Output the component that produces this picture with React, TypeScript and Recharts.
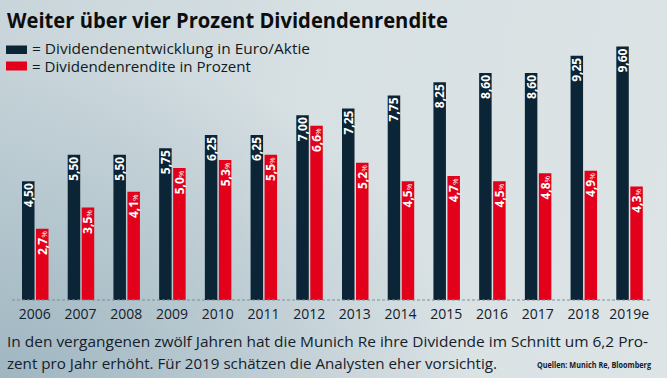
import React from 'react';
import { BarChart, Bar, XAxis, YAxis, LabelList } from 'recharts';

const years = ['2006', '2007', '2008', '2009', '2010', '2011', '2012', '2013', '2014', '2015', '2016', '2017', '2018', '2019e'];
const dividend = [4.5, 5.5, 5.5, 5.75, 6.25, 6.25, 7.0, 7.25, 7.75, 8.25, 8.6, 8.6, 9.25, 9.6];
const yieldPct = [2.7, 3.5, 4.1, 5.0, 5.3, 5.5, 6.6, 5.2, 4.5, 4.7, 4.5, 4.8, 4.9, 4.3];

const DARK = '#0c2536';
const RED = '#e2001a';
const FONT = '"Open Sans", "Noto Sans", sans-serif';

const data = years.map((y, i) => ({ year: y, dividend: dividend[i], yield: yieldPct[i] }));

const fmt = (v: number, d: number) => v.toFixed(d).replace('.', ',');

const DivLabel = (props: any) => {
    const { x, y, width, value } = props;
    const cx = x + width / 2 + 4.5;
    return (
        <text transform={`translate(${cx}, ${y + 2}) rotate(-90)`} textAnchor="end" fill="#fff" fontWeight={700} fontSize={12} fontFamily={FONT}>
            {fmt(value, 2)}
        </text>
    );
};

const YieldLabel = (props: any) => {
    const { x, y, width, value } = props;
    const cx = x + width / 2 + 4.5;
    return (
        <text transform={`translate(${cx}, ${y + 2.5}) rotate(-90)`} textAnchor="end" fill="#fff" fontWeight={700} fontSize={12} fontFamily={FONT}>
            {fmt(value, 1)}<tspan fontSize={8} fontWeight={400}>%</tspan>
        </text>
    );
};

const YearTick = (props: any) => {
    const { x, y, payload } = props;
    return (
        <text x={x} y={y} dy={11} textAnchor="middle" fill="#15202a" fontSize={14} fontFamily={FONT}>
            {payload.value}
        </text>
    );
};

export default function App() {
    return (
        <div style={{
            position: 'fixed', top: 0, left: 0, width: 667, height: 378, overflow: 'hidden',
            background: 'radial-gradient(ellipse 70% 90% at 0% 100%, #9fb6c1 0%, rgba(159,182,193,0) 100%), linear-gradient(100deg, #c8d5da 0%, #d7e0e3 45%, #dde4e6 100%)',
            fontFamily: FONT,
        }}>
            <div style={{ position: 'absolute', left: 0, top: 0 }}>
                <BarChart width={667} height={378} data={data} margin={{ top: 36, right: 15, left: 12, bottom: 48 }} barSize={12.5} barGap={1.5}>
                    <XAxis dataKey="year" height={30} tickLine={false} axisLine={{ stroke: '#7d8f99', strokeDasharray: '3 2' }} tick={<YearTick />} interval={0} />
                    <YAxis hide domain={[0, 10]} />
                    <Bar dataKey="dividend" fill={DARK} isAnimationActive={false}>
                        <LabelList dataKey="dividend" content={<DivLabel />} />
                    </Bar>
                    <Bar dataKey="yield" fill={RED} isAnimationActive={false}>
                        <LabelList dataKey="yield" content={<YieldLabel />} />
                    </Bar>
                </BarChart>
            </div>
            <svg width={667} height={378} style={{ position: 'absolute', left: 0, top: 0, pointerEvents: 'none' }}>
                <text x={7} y={28} fontSize={22} fontWeight={700} fill="#0d0d0d" textLength={441} lengthAdjust="spacingAndGlyphs">
                    Weiter über vier Prozent Dividendenrendite
                </text>
                <rect x={6} y={45.5} width={21} height={8.5} fill={DARK} />
                <text x={32} y={53.5} fontSize={14.5} fill="#111a22" textLength={278} lengthAdjust="spacingAndGlyphs">
                    = Dividendenentwicklung in Euro/Aktie
                </text>
                <rect x={6} y={61.5} width={21} height={9} fill={RED} />
                <text x={32} y={71.5} fontSize={14.5} fill="#111a22" textLength={219} lengthAdjust="spacingAndGlyphs">
                    = Dividendenrendite in Prozent
                </text>
                <text x={7} y={347} fontSize={15} fill="#15202a" textLength={641} lengthAdjust="spacingAndGlyphs">
                    In den vergangenen zwölf Jahren hat die Munich Re ihre Dividende im Schnitt um 6,2 Pro-
                </text>
                <text x={7} y={369} fontSize={15} fill="#15202a" textLength={490} lengthAdjust="spacingAndGlyphs">
                    zent pro Jahr erhöht. Für 2019 schätzen die Analysten eher vorsichtig.
                </text>
                <text x={651} y={368} fontSize={8.5} fontWeight={700} fill="#15202a" textAnchor="end" textLength={114} lengthAdjust="spacingAndGlyphs">
                    Quellen: Munich Re, Bloomberg
                </text>
            </svg>
        </div>
    );
}
